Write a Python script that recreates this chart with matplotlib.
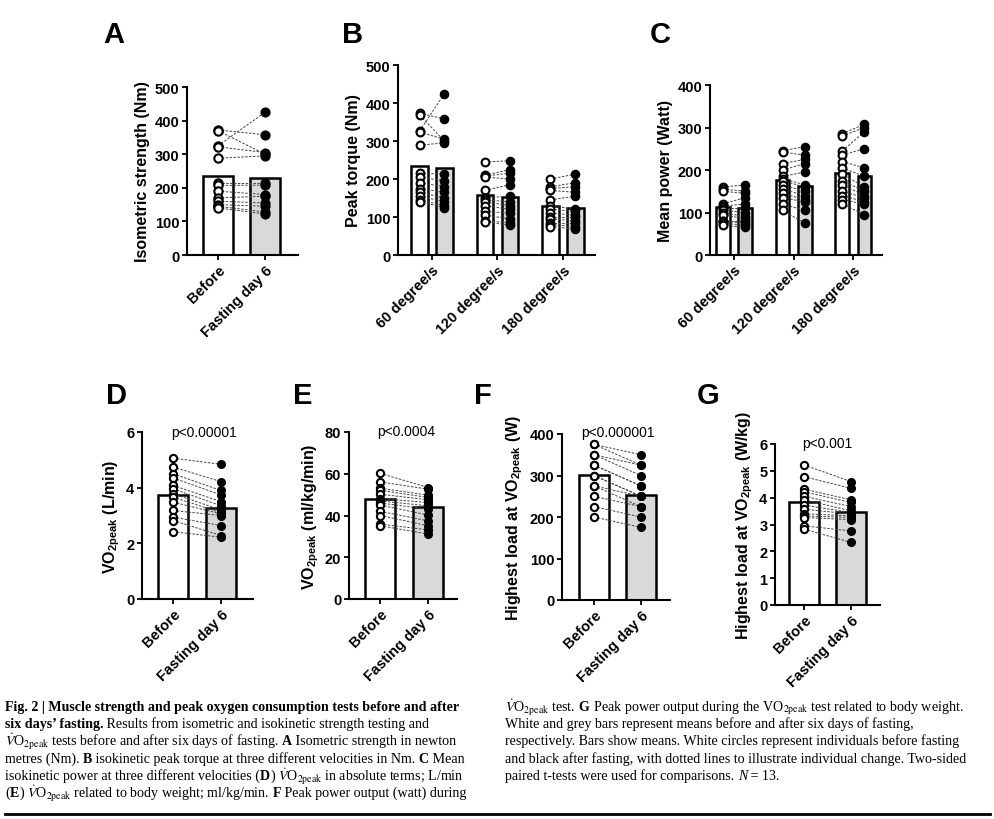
import matplotlib
matplotlib.use("Agg")
import matplotlib.pyplot as plt
from matplotlib.lines import Line2D

plt.rcParams["font.family"] = ["Liberation Sans", "DejaVu Sans"]
plt.rcParams["mathtext.fontset"] = "custom"
plt.rcParams["mathtext.rm"] = "Liberation Sans"
plt.rcParams["mathtext.bf"] = "Liberation Sans:bold"
plt.rcParams["mathtext.it"] = "Liberation Sans:italic"

# ---- data (N = 13) ----
groups_two = ["Before", "Fasting day 6"]
groups_vel = ["60 degree/s", "120 degree/s", "180 degree/s"]

A_before = [372, 370, 325, 322, 288, 215, 207, 190, 170, 160, 150, 145, 140]
A_after = [358, 300, 425, 305, 295, 215, 208, 180, 175, 155, 145, 128, 122]
A_means = [234, 230]

B60_before = [373, 368, 326, 323, 289, 215, 205, 190, 175, 165, 155, 145, 140]
B60_after = [358, 300, 425, 305, 295, 213, 195, 180, 165, 150, 140, 130, 125]
B120_before = [245, 210, 208, 205, 170, 150, 145, 140, 130, 115, 105, 90, 88]
B120_after = [248, 225, 215, 200, 185, 155, 140, 130, 120, 110, 95, 85, 78]
B180_before = [200, 180, 175, 170, 145, 130, 120, 110, 100, 95, 85, 80, 75]
B180_after = [213, 190, 180, 165, 155, 120, 115, 105, 100, 90, 85, 75, 68]
B_means = [[234, 230], [157, 153], [130, 125]]

C60_before = [160, 155, 150, 120, 115, 110, 105, 100, 95, 80, 80, 75, 70]
C60_after = [165, 150, 145, 135, 120, 110, 100, 90, 85, 80, 75, 70, 65]
C120_before = [245, 242, 215, 200, 185, 180, 175, 165, 155, 145, 135, 120, 105]
C120_after = [255, 235, 225, 215, 195, 165, 160, 150, 140, 130, 125, 105, 75]
C180_before = [285, 280, 245, 235, 220, 205, 190, 175, 165, 150, 140, 130, 120]
C180_after = [308, 300, 290, 250, 205, 185, 160, 150, 140, 135, 125, 120, 95]
C_means = [[112, 110], [176, 163], [194, 185]]

D_before = [5.06, 4.74, 4.50, 4.35, 4.08, 3.96, 3.78, 3.66, 3.48, 3.18, 2.94, 2.82, 2.42]
D_after = [4.84, 4.22, 3.90, 3.74, 3.50, 3.35, 3.20, 3.10, 3.06, 3.00, 2.64, 2.28, 2.22]
D_means = [3.74, 3.26]

E_before = [60.2, 56.1, 53.1, 52.1, 50.2, 48.1, 47.0, 46.0, 45.0, 42.0, 40.0, 35.9, 35.1]
E_after = [53.4, 52.6, 49.7, 48.6, 47.5, 46.2, 44.6, 43.0, 40.2, 37.4, 35.1, 33.1, 31.1]
E_means = [47.8, 44.1]

F_before = [375, 375, 350, 350, 325, 325, 300, 300, 275, 275, 250, 225, 200]
F_after = [350, 325, 325, 300, 275, 275, 250, 250, 250, 225, 225, 200, 175]
F_means = [301, 254]

G_before = [5.22, 4.78, 4.32, 4.22, 4.05, 3.92, 3.72, 3.57, 3.40, 3.32, 3.26, 2.95, 2.83]
G_after = [4.60, 4.35, 3.92, 3.82, 3.67, 3.51, 3.45, 3.39, 3.32, 3.26, 3.18, 2.76, 2.33]
G_means = [3.85, 3.47]

p_values = {"D": "p<0.00001", "E": "p<0.0004", "F": "p<0.000001", "G": "p<0.001"}

W, H = 995, 820
fig = plt.figure(figsize=(W / 100, H / 100), dpi=100)


def add_ax(l, r, t, b):
    return fig.add_axes([l / W, 1 - b / H, (r - l) / W, (b - t) / H])


def style(ax, ymax, yticks, xlim, xticks, xlabels, ylabel):
    ax.set_xlim(*xlim)
    ax.set_ylim(0, ymax)
    for s in ["top", "right"]:
        ax.spines[s].set_visible(False)
    for s in ["left", "bottom"]:
        ax.spines[s].set_linewidth(1.5)
    ax.set_yticks(yticks)
    ax.set_xticks(xticks)
    ax.set_xticklabels(xlabels, rotation=45, ha="right", rotation_mode="anchor",
                       fontweight="bold", fontsize=10.5)
    ax.tick_params(direction="out", length=3.5, width=1.3, labelsize=10.5, pad=2)
    for lab in ax.get_yticklabels():
        lab.set_fontweight("bold")
    ax.set_ylabel(ylabel, fontweight="bold", fontsize=11.5, labelpad=3)
    ax.patch.set_alpha(0)


def paired(ax, xb, xa, before, after, means, width, ms=5.6):
    ax.bar([xb, xa], means, width=width, color=["white", "#d9d9d9"],
           edgecolor="black", linewidth=1.8, zorder=1)
    for b, a in zip(before, after):
        ax.plot([xb, xa], [b, a], ls=(0, (2.5, 1.5)), lw=0.7, color="#444444", zorder=2)
    ax.plot([xb] * len(before), before, "o", ms=ms, mfc="white", mec="black",
            mew=1.5, zorder=3, clip_on=False)
    ax.plot([xa] * len(after), after, "o", ms=ms + 0.3, mfc="black", mec="black",
            zorder=3, clip_on=False)


# ---- A ----
ax = add_ax(187, 298, 88, 256)
paired(ax, 0, 1, A_before, A_after, A_means, 0.64, ms=6.0)
style(ax, 500, range(0, 501, 100), (-0.66, 1.70), [0, 1], groups_two, "Isometric strength (Nm)")

# ---- B ----
ax = add_ax(398, 595, 66, 256)
for g, (bb, aa) in enumerate([(B60_before, B60_after), (B120_before, B120_after), (B180_before, B180_after)]):
    paired(ax, g - 0.19, g + 0.19, bb, aa, B_means[g], 0.25)
style(ax, 500, range(0, 501, 100), (-0.52, 2.49), [0, 1, 2], groups_vel, "Peak torque (Nm)")

# ---- C ----
ax = add_ax(710, 882, 86, 256)
for g, (bb, aa) in enumerate([(C60_before, C60_after), (C120_before, C120_after), (C180_before, C180_after)]):
    paired(ax, g - 0.185, g + 0.185, bb, aa, C_means[g], 0.23)
style(ax, 400, range(0, 401, 100), (-0.40, 2.48), [0, 1, 2], groups_vel, "Mean power (Watt)")

# ---- D ----
ax = add_ax(142, 253, 433, 600)
paired(ax, 0, 1, D_before, D_after, D_means, 0.63, ms=5.2)
style(ax, 6, [0, 2, 4, 6], (-0.65, 1.67), [0, 1], groups_two, r"VO$_\mathbf{2peak}$ (L/min)")
ax.text(0.65, 6.0, p_values["D"], ha="center", va="center", fontsize=10)

# ---- E ----
ax = add_ax(349, 457, 433, 600)
paired(ax, 0, 1, E_before, E_after, E_means, 0.63, ms=5.2)
style(ax, 80, range(0, 81, 20), (-0.65, 1.60), [0, 1], groups_two, r"VO$_\mathbf{2peak}$ (ml/kg/min)")
ax.text(0.55, 80.5, p_values["E"], ha="center", va="center", fontsize=10)

# ---- F ----
ax = add_ax(562, 670, 435, 601)
paired(ax, 0, 1, F_before, F_after, F_means, 0.63, ms=5.2)
style(ax, 400, range(0, 401, 100), (-0.68, 1.62), [0, 1], groups_two,
      r"Highest load at VO$_\mathbf{2peak}$ (W)")
ax.text(0.52, 405, p_values["F"], ha="center", va="center", fontsize=10)

# ---- G ----
ax = add_ax(775, 880, 445, 606)
paired(ax, 0, 1, G_before, G_after, G_means, 0.63, ms=5.2)
style(ax, 6, range(0, 7), (-0.62, 1.62), [0, 1], groups_two,
      r"Highest load at VO$_\mathbf{2peak}$ (W/kg)")
ax.text(0.5, 6.05, p_values["G"], ha="center", va="center", fontsize=10)

# ---- panel letters ----
for letter, x, y in [("A", 103, 43), ("B", 342, 43), ("C", 650, 43), ("D", 106, 404),
                     ("E", 293, 404), ("F", 474, 404), ("G", 697, 404)]:
    fig.text(x / W, 1 - y / H, letter, fontsize=21, fontweight="bold", va="baseline")

# ---- caption ----
CAP_FONT = "Liberation Serif"
CAP_FS = 10.1
renderer = fig.canvas.get_renderer()


def text_width(s, kw):
    t = fig.text(0, 0, "|" + s + "|", **kw)
    w1 = t.get_window_extent(renderer).width
    t.remove()
    t = fig.text(0, 0, "||", **kw)
    w0 = t.get_window_extent(renderer).width
    t.remove()
    return w1 - w0


def run_line(x, y, parts):
    for s, wt, st in parts:
        kw = dict(fontsize=CAP_FS, family=CAP_FONT, fontweight=wt, fontstyle=st,
                  math_fontfamily="stix")
        fig.text(x / W, 1 - y / H, s, va="baseline", **kw)
        x += text_width(s, kw)


n, b = "normal", "bold"
vo = r"$\dot{V}$O$_\mathrm{2peak}$"
left_lines = [
    [("Fig. 2 | Muscle strength and peak oxygen consumption tests before and after", b, n)],
    [("six days\u2019 fasting.", b, n), (" Results from isometric and isokinetic strength testing and", n, n)],
    [(vo + " tests before and after six days of fasting. ", n, n), ("A", b, n),
     (" Isometric strength in newton", n, n)],
    [("metres (Nm). ", n, n), ("B", b, n),
     (" isokinetic peak torque at three different velocities in Nm. ", n, n), ("C", b, n), (" Mean", n, n)],
    [("isokinetic power at three different velocities (", n, n), ("D", b, n),
     (") " + vo + " in absolute terms; L/min", n, n)],
    [("(", n, n), ("E", b, n), (") " + vo + " related to body weight; ml/kg/min. ", n, n), ("F", b, n),
     (" Peak power output (watt) during", n, n)],
]
right_lines = [
    [(vo + " test. ", n, n), ("G", b, n),
     (r" Peak power output during the VO$_\mathrm{2peak}$ test related to body weight.", n, n)],
    [("White and grey bars represent means before and after six days of fasting,", n, n)],
    [("respectively. Bars show means. White circles represent individuals before fasting", n, n)],
    [("and black after fasting, with dotted lines to illustrate individual change. Two-sided", n, n)],
    [("paired t-tests were used for comparisons. ", n, n), ("N", n, "italic"), (" = 13.", n, n)],
]
y0, dy = 711, 17.2
for i, parts in enumerate(left_lines):
    run_line(5, y0 + i * dy, parts)
for i, parts in enumerate(right_lines):
    run_line(505, y0 + i * dy, parts)

fig.add_artist(Line2D([5 / W, 990 / W], [1 - 815 / H] * 2, lw=2, color="black"))

fig.savefig("out.png", dpi=100)
